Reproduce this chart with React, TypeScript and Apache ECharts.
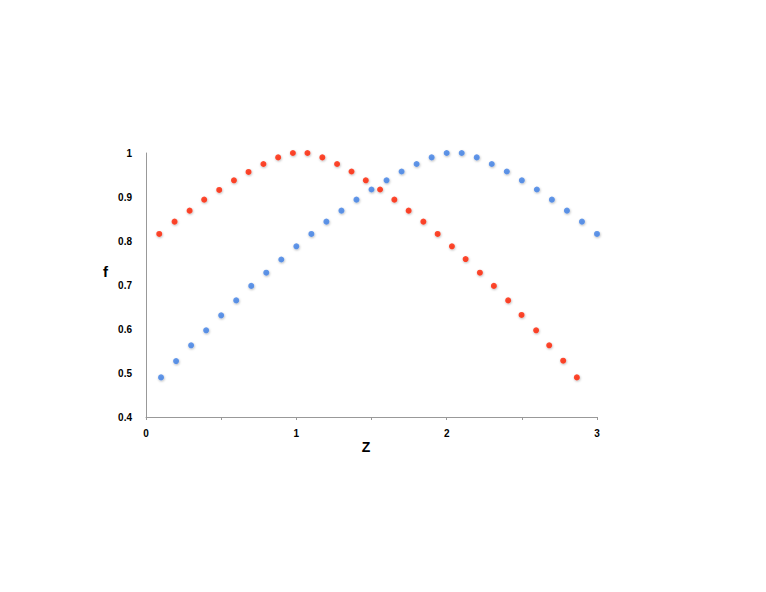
import React, { useEffect, useRef } from "react";
import * as echarts from "echarts";

const redX = [0.088, 0.19, 0.29, 0.387, 0.487, 0.585, 0.682, 0.781, 0.879, 0.977, 1.074, 1.173, 1.271, 1.367, 1.462, 1.557, 1.652, 1.747, 1.845, 1.94, 2.035, 2.126, 2.221, 2.314, 2.409, 2.498, 2.595, 2.682, 2.775, 2.866];
const redY = [0.816, 0.844, 0.869, 0.894, 0.916, 0.938, 0.957, 0.975, 0.99, 1.0, 1.0, 0.99, 0.975, 0.958, 0.938, 0.917, 0.894, 0.869, 0.844, 0.816, 0.788, 0.759, 0.728, 0.698, 0.665, 0.632, 0.597, 0.563, 0.528, 0.49];
const blueX = [0.1, 0.2, 0.3, 0.4, 0.5, 0.6, 0.7, 0.8, 0.9, 1.0, 1.1, 1.2, 1.3, 1.4, 1.5, 1.6, 1.7, 1.8, 1.9, 2.0, 2.1, 2.2, 2.3, 2.4, 2.5, 2.6, 2.7, 2.8, 2.9, 3.0];
const blueY = [0.49, 0.527, 0.563, 0.597, 0.631, 0.665, 0.698, 0.728, 0.758, 0.788, 0.816, 0.844, 0.869, 0.894, 0.917, 0.938, 0.958, 0.975, 0.99, 1.0, 1.0, 0.99, 0.975, 0.958, 0.938, 0.917, 0.894, 0.869, 0.844, 0.816];

const FONT = "Liberation Sans";

export default function App() {
  const ref = useRef<HTMLDivElement>(null);
  useEffect(() => {
    if (!ref.current) return;
    const chart = echarts.init(ref.current, null, { renderer: "svg" });
    const shadow = { shadowBlur: 2, shadowColor: "rgba(0,0,0,0.35)", shadowOffsetY: 1, shadowOffsetX: 0.5 };
    chart.setOption({
      animation: false,
      backgroundColor: "#fff",
      grid: { left: 138, right: 161, top: 145, bottom: 167, containLabel: false },
      xAxis: {
        type: "value",
        min: 0,
        max: 3,
        interval: 0.5,
        name: "Z",
        nameLocation: "middle",
        nameGap: 23,
        nameTextStyle: { fontFamily: FONT, fontWeight: "bold", fontSize: 14, color: "#000", padding: [0, 11, 0, 0] },
        axisLine: { show: true, lineStyle: { color: "#999", width: 1 } },
        axisTick: { show: true, length: 3, lineStyle: { color: "#999" } },
        splitLine: { show: false },
        axisLabel: {
          fontFamily: FONT, fontWeight: "bold", fontSize: 10, color: "#000", margin: 11,
          formatter: (v: number) => (Math.abs(v - Math.round(v)) < 1e-9 ? String(Math.round(v)) : ""),
        },
      },
      yAxis: {
        type: "value",
        min: 0.4,
        max: 1,
        interval: 0.1,
        name: "f",
        nameLocation: "middle",
        nameGap: 38,
        nameRotate: 0,
        nameTextStyle: { fontFamily: FONT, fontWeight: "bold", fontSize: 15, color: "#000", verticalAlign: "bottom", lineHeight: 15, padding: [0, 0, 6, 0] },
        axisLine: { show: true, lineStyle: { color: "#999", width: 1 } },
        axisTick: { show: false },
        splitLine: { show: false },
        axisLabel: {
          fontFamily: FONT, fontWeight: "bold", fontSize: 10, color: "#000", margin: 14,
          formatter: (v: number) => String(parseFloat(v.toFixed(1))),
        },
      },
      series: [
        {
          type: "scatter",
          data: blueX.map((x, i) => [x, blueY[i]]),
          symbolSize: 6,
          itemStyle: { color: "#3f80e6", ...shadow },
        },
        {
          type: "scatter",
          data: redX.map((x, i) => [x, redY[i]]),
          symbolSize: 6,
          itemStyle: { color: "#ff2200", ...shadow },
        },
      ],
    });
    return () => chart.dispose();
  }, []);
  return <div ref={ref} style={{ width: 750, height: 576 }} />;
}
